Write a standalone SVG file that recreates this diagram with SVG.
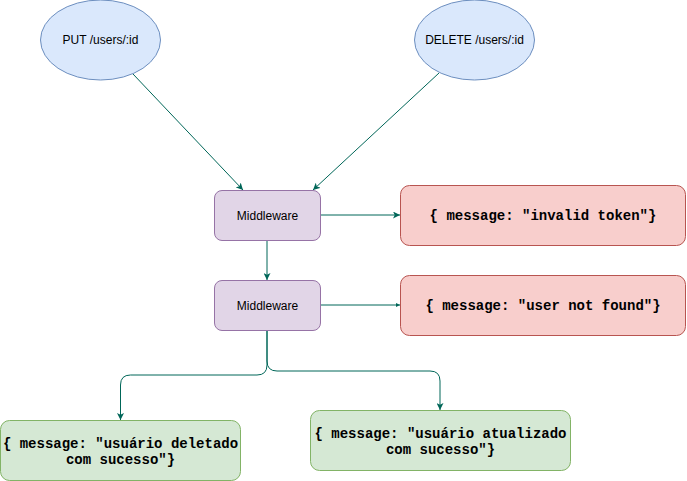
<svg xmlns="http://www.w3.org/2000/svg" width="687" height="481" viewBox="0 0 687 481">
<style>
.ell{fill:#dae8fc;stroke:#6c8ebf;stroke-width:1}
.mw{fill:#e1d5e7;stroke:#9673a6;stroke-width:1}
.err{fill:#f8cecc;stroke:#b85450;stroke-width:1}
.ok{fill:#d5e8d4;stroke:#82b366;stroke-width:1}
.sans{font-family:"Liberation Sans",Arial,Helvetica,sans-serif;font-size:12px;fill:#000;text-anchor:middle}
.mono{font-family:"Liberation Mono","Courier New",monospace;font-size:14px;font-weight:bold;fill:#000;text-anchor:middle}
.edge{fill:none;stroke:#006658;stroke-width:1}
</style>
<defs>
<marker id="arr" viewBox="0 0 10 10" refX="10" refY="5" markerWidth="7" markerHeight="7" orient="auto" markerUnits="userSpaceOnUse">
<path d="M0,0 L10,5 L0,10 L2.5,5 Z" fill="#006658"/>
</marker>
<marker id="arrS" viewBox="0 0 10 10" refX="10" refY="5" markerWidth="4" markerHeight="4" orient="auto" markerUnits="userSpaceOnUse">
<path d="M0,0 L10,5 L0,10 Z" fill="#006658"/>
</marker>
</defs>
<g id="connectors">
<path class="edge" d="M133,74 L243,190" marker-end="url(#arr)"/>
<path class="edge" d="M439,73 L313,190" marker-end="url(#arr)"/>
<path class="edge" d="M320.5,215 L400,215" marker-end="url(#arr)"/>
<path class="edge" d="M267,240 L267,280" marker-end="url(#arr)"/>
<path class="edge" d="M320.5,305 L400,305" marker-end="url(#arrS)"/>
<path class="edge" d="M267,330 L267,365 Q267,375 257,375 L130.5,375 Q120.5,375 120.5,385 L120.5,420" marker-end="url(#arr)"/>
<path class="edge" d="M267,330 L267,361 Q267,371 277,371 L430,371 Q440,371 440,381 L440,410" marker-end="url(#arr)"/>
</g>
<g id="put">
<ellipse class="ell" cx="100.5" cy="40" rx="60" ry="40"/>
<text class="sans" x="100.5" y="44">PUT /users/:id</text>
</g>
<g id="delete">
<ellipse class="ell" cx="474.5" cy="40" rx="60" ry="40"/>
<text class="sans" x="474.5" y="44">DELETE /users/:id</text>
</g>
<g id="middleware1">
<rect class="mw" x="214.5" y="190.5" width="106" height="50" rx="7.5"/>
<text class="sans" x="267.5" y="219.5">Middleware</text>
</g>
<g id="middleware2">
<rect class="mw" x="214.5" y="280.5" width="106" height="50" rx="7.5"/>
<text class="sans" x="267.5" y="309.5">Middleware</text>
</g>
<g id="invalidToken">
<rect class="err" x="400.5" y="185.5" width="285" height="60" rx="9"/>
<text class="mono" x="543" y="219.5">{ message: "invalid token"}</text>
</g>
<g id="userNotFound">
<rect class="err" x="400.5" y="275.5" width="285" height="60" rx="9"/>
<text class="mono" x="543" y="309.5">{ message: "user not found"}</text>
</g>
<g id="deleted">
<rect class="ok" x="0.5" y="420.5" width="240" height="60" rx="9"/>
<text class="mono" x="120.5" y="447.5">{ message: "usuário deletado</text>
<text class="mono" x="120.5" y="463.5">com sucesso"}</text>
</g>
<g id="updated">
<rect class="ok" x="310.5" y="410.5" width="260" height="60" rx="9"/>
<text class="mono" x="440.5" y="437.5">{ message: "usuário atualizado</text>
<text class="mono" x="440.5" y="453.5">com sucesso"}</text>
</g>
</svg>
